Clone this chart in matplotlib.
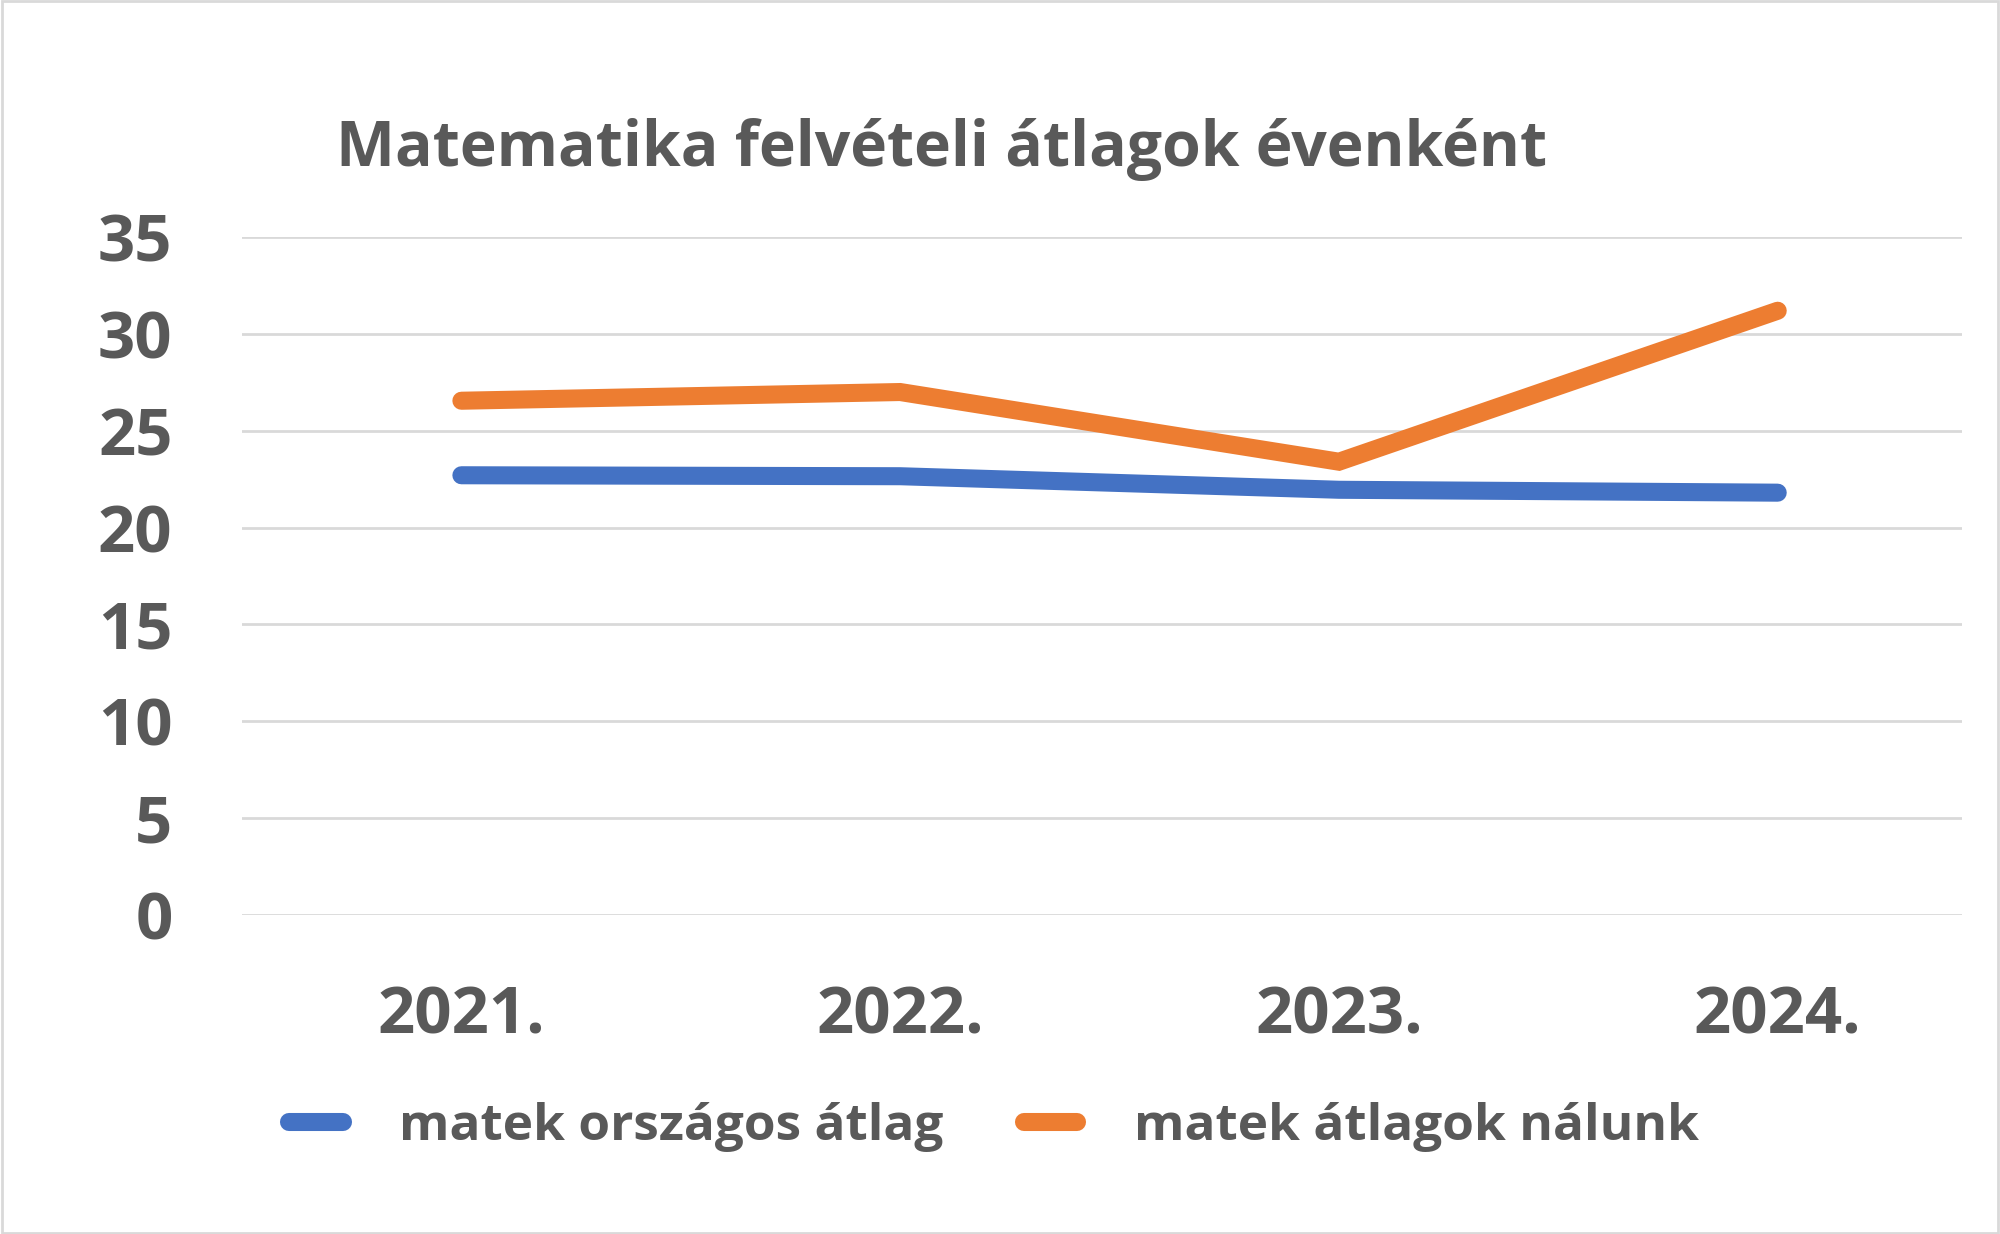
import matplotlib
matplotlib.use("Agg")
import matplotlib.pyplot as plt
from matplotlib.patches import Rectangle

years = ['2021.', '2022.', '2023.', '2024.']
orszagos = [22.7, 22.65, 21.95, 21.8]
nalunk = [26.55, 27.0, 23.4, 31.2]

plt.rcParams['font.family'] = ['Open Sans', 'DejaVu Sans']
txt = '#595959'

fig = plt.figure(figsize=(20, 12.34), dpi=100)
ax = fig.add_axes([0.121, 0.2588, 0.86, 0.549])

x = range(len(years))
ax.plot(x, orszagos, color='#4472C4', lw=13, solid_capstyle='round',
        solid_joinstyle='miter', label='matek országos átlag', zorder=3)
ax.plot(x, nalunk, color='#ED7D31', lw=13, solid_capstyle='round',
        solid_joinstyle='miter', label='matek átlagok nálunk', zorder=3)

ax.set_ylim(0, 35)
ax.set_xlim(-0.5, 3.42)
ax.set_yticks(range(0, 36, 5))
ax.set_xticks(list(x))
ax.set_xticklabels(years)
ax.grid(axis='y', color='#D9D9D9', lw=2)
ax.set_axisbelow(True)
for s in ax.spines.values():
    s.set_visible(False)
ax.tick_params(length=0)
ax.tick_params(axis='y', pad=50, labelsize=47, labelcolor=txt)
ax.tick_params(axis='x', pad=50, labelsize=47, labelcolor=txt)
for lbl in ax.get_xticklabels() + ax.get_yticklabels():
    lbl.set_fontweight('bold')

fig.text(0.471, 0.879, 'Matematika felvételi átlagok évenként', ha='center',
         va='center', fontsize=45, color=txt, fontweight='bold')

leg = fig.legend(loc='center', bbox_to_anchor=(0.497, 0.087), ncol=2,
                 frameon=False, fontsize=37, handlelength=1.05,
                 handletextpad=1.1, columnspacing=1.55)
for t in leg.get_texts():
    t.set_color(txt)
    t.set_fontweight('bold')
for h in leg.get_lines():
    h.set_linewidth(13)

fig.patches.append(Rectangle((0.001, 0.001), 0.998, 0.998, transform=fig.transFigure,
                             fill=False, edgecolor='#D9D9D9', lw=2))

fig.savefig('out.png', dpi=100)
